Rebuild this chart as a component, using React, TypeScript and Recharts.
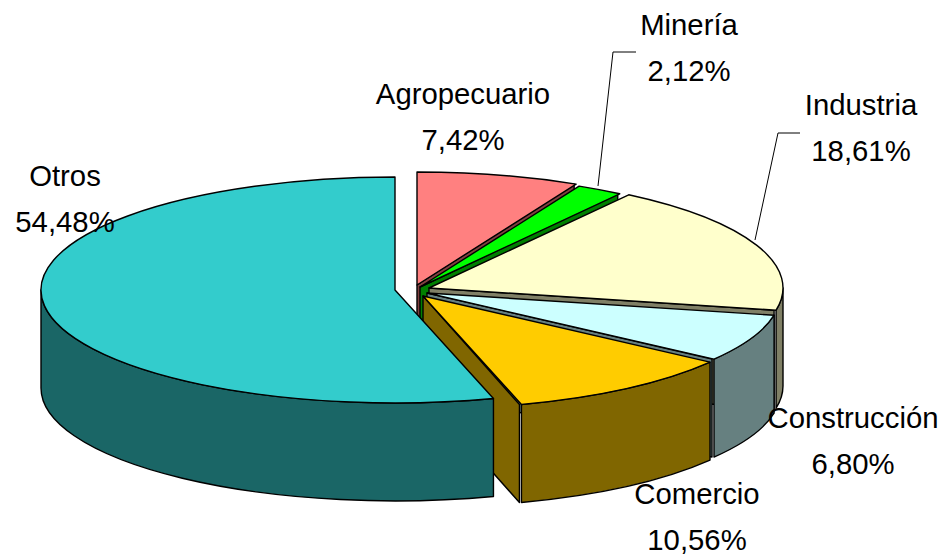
import { PieChart, Pie } from 'recharts';

const categories = ['Agropecuario', 'Minería', 'Industria', 'Construcción', 'Comercio', 'Otros'];
const shares = [7.42, 2.12, 18.61, 6.8, 10.56, 54.48];
const topColors = ['#ff8080', '#00ff00', '#ffffcc', '#ccffff', '#ffcc00', '#33cccc'];
const wallColors = ['#804040', '#008000', '#808066', '#668080', '#806600', '#1a6666'];

const data = categories.map((name, i) => ({ name, value: shares[i] }));

// layout
const TILT = 0.319;
const DEPTH = 98;
const GAP = 2;
const explode = [[0, 0], [3, 2], [12, 3], [10, 8], [6, 11], [-22, 5]];
const labelSpots = [[463, 94], [689, 25], [861, 105], [853, 418], [697, 494], [65, 176]];
const leaders: Record<number, number[][]> = {
  1: [[598, 186], [613, 52], [636, 52]],
  2: [[755, 240], [778, 133], [800, 133]],
};

const rad = (deg: number) => (deg * Math.PI) / 180;

function Slice3D(props: any) {
  const { cx, cy, outerRadius, startAngle, endAngle, index } = props;
  const [ox, oy] = explode[index];
  const x0 = cx + ox;
  const y0 = cy + oy;
  const rx = outerRadius;
  const ry = outerRadius * TILT;
  // clockwise degrees from the top of the ellipse
  const t0 = 90 - startAngle;
  const t1 = 90 - endAngle;
  const px = (t: number) => x0 + rx * Math.sin(rad(t));
  const py = (t: number) => y0 - ry * Math.cos(rad(t));
  const big = t1 - t0 > 180 ? 1 : 0;

  const top = `M${x0},${y0} L${px(t0)},${py(t0)} A${rx},${ry} 0 ${big} 1 ${px(t1)},${py(t1)} Z`;

  const a = Math.max(t0, 90);
  const b = Math.min(t1, 270);
  const arcWall =
    b > a
      ? `M${px(a)},${py(a)} A${rx},${ry} 0 0 1 ${px(b)},${py(b)} L${px(b)},${py(b) + DEPTH} A${rx},${ry} 0 0 0 ${px(a)},${py(a) + DEPTH} Z`
      : null;
  const endWall =
    t1 < 180
      ? `M${x0},${y0} L${px(t1) - GAP},${py(t1)} L${px(t1) - GAP},${py(t1) + DEPTH} L${x0},${y0 + DEPTH} Z`
      : null;

  const line = { stroke: '#000', strokeWidth: 1.4, strokeLinejoin: 'round' as const };
  return (
    <g>
      {endWall && <path d={endWall} fill={wallColors[index]} {...line} />}
      {arcWall && <path d={arcWall} fill={wallColors[index]} {...line} />}
      <path d={top} fill={topColors[index]} {...line} />
    </g>
  );
}

function SliceLabel(props: any) {
  const { index } = props;
  const [x, y] = labelSpots[index];
  const pct = shares[index].toFixed(2).replace('.', ',') + '%';
  const leader = leaders[index];
  return (
    <g>
      {leader && <polyline points={leader.map((p) => p.join(',')).join(' ')} fill="none" stroke="#000" strokeWidth={1} />}
      <text x={x} y={y} dy={10} textAnchor="middle" fontFamily="Liberation Sans" fontSize={29.3} fill="#000">
        {categories[index]}
      </text>
      <text x={x} y={y + 46} dy={10} textAnchor="middle" fontFamily="Liberation Sans" fontSize={29.3} fill="#000">
        {pct}
      </text>
    </g>
  );
}

export default function App() {
  return (
    <div style={{ position: 'absolute', left: 0, top: 0, width: 947, height: 556, background: '#fff' }}>
      <PieChart width={947} height={556} margin={{ top: 0, right: 0, bottom: 0, left: 0 }}>
        <Pie
          data={data}
          dataKey="value"
          nameKey="name"
          cx={417}
          cy={285}
          outerRadius={354}
          startAngle={90}
          endAngle={-270}
          stroke="none"
          shape={Slice3D}
          label={SliceLabel}
          labelLine={false}
          isAnimationActive={false}
        />
      </PieChart>
    </div>
  );
}
